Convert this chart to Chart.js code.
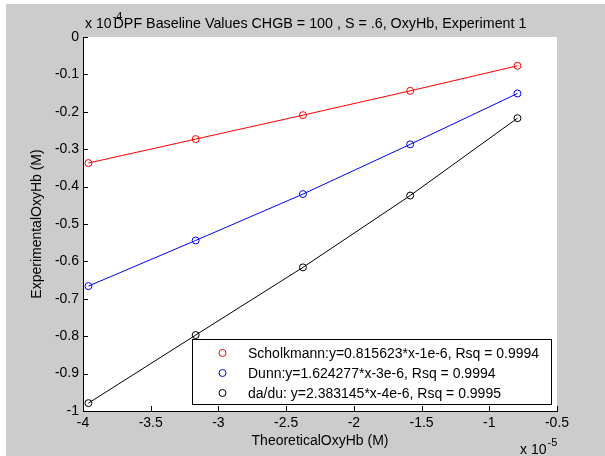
<!DOCTYPE html>
<html>
<head>
<meta charset="utf-8">
<script src="https://cdn.jsdelivr.net/npm/chart.js@4.4.1/dist/chart.umd.min.js"></script>
<style>
  html, body { margin: 0; padding: 0; background: #ffffff; }
  #wrap { width: 605px; height: 456px; position: relative; }
</style>
</head>
<body>
<div id="wrap"><canvas id="c" width="605" height="456"></canvas></div>
<script>
// ---- data (x in units of 1e-5 M, y in units of 1e-4 M) ----
const theoreticalX = [-3.96, -3.168, -2.376, -1.584, -0.792];
const scholkmannY = [-0.337, -0.273, -0.209, -0.144, -0.077];
const dunnY       = [-0.666, -0.544, -0.420, -0.287, -0.151];
const daduY       = [-0.979, -0.797, -0.616, -0.424, -0.217];

const seriesLabels = [
  'Scholkmann:y=0.815623*x-1e-6, Rsq = 0.9994',
  'Dunn:y=1.624277*x-3e-6, Rsq = 0.9994',
  'da/du: y=2.383145*x-4e-6, Rsq = 0.9995'
];
const seriesColors = ['#ff0000', '#0000ff', '#000000'];

const xTickValues = [-4, -3.5, -3, -2.5, -2, -1.5, -1, -0.5];
const xTickLabels = ['-4', '-3.5', '-3', '-2.5', '-2', '-1.5', '-1', '-0.5'];
const yTickValues = [0, -0.1, -0.2, -0.3, -0.4, -0.5, -0.6, -0.7, -0.8, -0.9, -1];
const yTickLabels = ['0', '-0.1', '-0.2', '-0.3', '-0.4', '-0.5', '-0.6', '-0.7', '-0.8', '-0.9', '-1'];

const titleText = 'DPF Baseline Values CHGB = 100 , S = .6, OxyHb, Experiment 1';
const xTitle = 'TheoreticalOxyHb (M)';
const yTitle = 'ExperimentalOxyHb (M)';
const xExponent = '-5';
const yExponent = '-4';

const FONT = "'Liberation Sans', Arial, Helvetica, sans-serif";

function pts(ys) { return theoreticalX.map((x, i) => ({ x: x, y: ys[i] })); }

const seriesData = [scholkmannY, dunnY, daduY];
const datasets = seriesData.map((ys, i) => ({
  label: seriesLabels[i],
  data: pts(ys),
  borderColor: seriesColors[i],
  backgroundColor: 'rgba(0,0,0,0)',
  borderWidth: 1,
  pointStyle: 'circle',
  pointRadius: 3.5,
  pointBorderWidth: 1,
  pointBackgroundColor: 'rgba(0,0,0,0)',
  pointBorderColor: seriesColors[i],
  tension: 0,
  fill: false
}));

const matlabPlugin = {
  id: 'matlab',
  beforeDraw(chart) {
    const ctx = chart.ctx;
    const a = chart.chartArea;
    ctx.save();
    ctx.fillStyle = '#cccccc';
    ctx.fillRect(6, 4, chart.width - 6, chart.height - 4);
    ctx.fillStyle = '#ffffff';
    ctx.fillRect(a.left, a.top, a.right - a.left, a.bottom - a.top);
    // exponent labels
    ctx.fillStyle = '#000000';
    ctx.textBaseline = 'alphabetic';
    ctx.textAlign = 'left';
    ctx.font = '14px ' + FONT;
    ctx.fillText('x 10', a.left + 2, 28);
    const w1 = ctx.measureText('x 10').width;
    ctx.font = '11px ' + FONT;
    ctx.fillText(yExponent, a.left + 2 + w1 + 1, 20);
    ctx.font = '14px ' + FONT;
    ctx.fillText('x 10', 520, 454);
    const w2 = ctx.measureText('x 10').width;
    ctx.font = '11px ' + FONT;
    ctx.fillText(xExponent, 520 + w2 + 1, 446);
    // title, centred over the axes (drawn over the exponent, as in the original)
    ctx.font = '14.3px ' + FONT;
    ctx.textAlign = 'center';
    ctx.fillText(titleText, (a.left + a.right) / 2, 28);
    ctx.restore();
  },
  afterDraw(chart) {
    const ctx = chart.ctx;
    const a = chart.chartArea;
    const xs = chart.scales.x, ys = chart.scales.y;
    ctx.save();
    ctx.strokeStyle = '#000000';
    ctx.lineWidth = 1;
    ctx.beginPath();
    xTickValues.forEach(v => {
      const px = Math.round(xs.getPixelForValue(v)) + 0.5;
      ctx.moveTo(px, a.bottom);
      ctx.lineTo(px, a.bottom - 5);
    });
    yTickValues.forEach(v => {
      const py = Math.round(ys.getPixelForValue(v)) + 0.5;
      ctx.moveTo(a.left, py);
      ctx.lineTo(a.left + 5, py);
    });
    ctx.stroke();

    // legend box
    const lx = 192, ly = 339, lw = 359, lh = 65;
    ctx.fillStyle = '#ffffff';
    ctx.fillRect(lx, ly, lw, lh);
    ctx.strokeStyle = '#000000';
    ctx.strokeRect(lx + 0.5, ly + 0.5, lw, lh);
    ctx.font = '14px ' + FONT;
    ctx.textBaseline = 'middle';
    ctx.textAlign = 'left';
    chart.data.datasets.forEach((ds, i) => {
      const cy = 353 + i * 20;
      ctx.beginPath();
      ctx.strokeStyle = ds.borderColor;
      ctx.arc(222.5, cy, 3.5, 0, Math.PI * 2);
      ctx.stroke();
      ctx.fillStyle = '#000000';
      ctx.fillText(ds.label, 248, cy + 1);
    });
    ctx.restore();
  }
};

new Chart(document.getElementById('c'), {
  type: 'line',
  data: { datasets: datasets },
  options: {
    responsive: false,
    devicePixelRatio: 1,
    animation: false,
    layout: { padding: { left: 0, right: 48, top: 37, bottom: 0 } },
    plugins: {
      legend: { display: false },
      tooltip: { enabled: false },
      title: { display: false }
    },
    scales: {
      x: {
        type: 'linear',
        min: -4, max: -0.5,
        afterFit: s => { s.height = 45; },
        afterBuildTicks: s => { s.ticks = xTickValues.map(v => ({ value: v })); },
        ticks: {
          color: '#000000',
          font: { family: FONT, size: 14 },
          padding: 4,
          maxRotation: 0,
          autoSkip: false,
          callback: (v, i) => xTickLabels[i]
        },
        grid: { display: true, drawOnChartArea: false, drawTicks: false, color: '#000000' },
        border: { display: true, color: '#000000', width: 1 },
        title: {
          display: true, text: xTitle, color: '#000000',
          font: { family: FONT, size: 14 },
          padding: { top: 0, bottom: 6.6 }
        }
      },
      y: {
        type: 'linear',
        min: -1, max: 0,
        afterFit: s => { s.width = 83; },
        afterBuildTicks: s => { s.ticks = yTickValues.map(v => ({ value: v })); },
        ticks: {
          color: '#000000',
          font: { family: FONT, size: 14 },
          padding: 4,
          autoSkip: false,
          callback: (v, i) => yTickLabels[i]
        },
        grid: { display: true, drawOnChartArea: false, drawTicks: false, color: '#000000' },
        border: { display: true, color: '#000000', width: 1 },
        title: {
          display: true, text: yTitle, color: '#000000',
          font: { family: FONT, size: 14 },
          padding: { top: 29, bottom: 0 }
        }
      }
    }
  },
  plugins: [matlabPlugin]
});
</script>
</body>
</html>
